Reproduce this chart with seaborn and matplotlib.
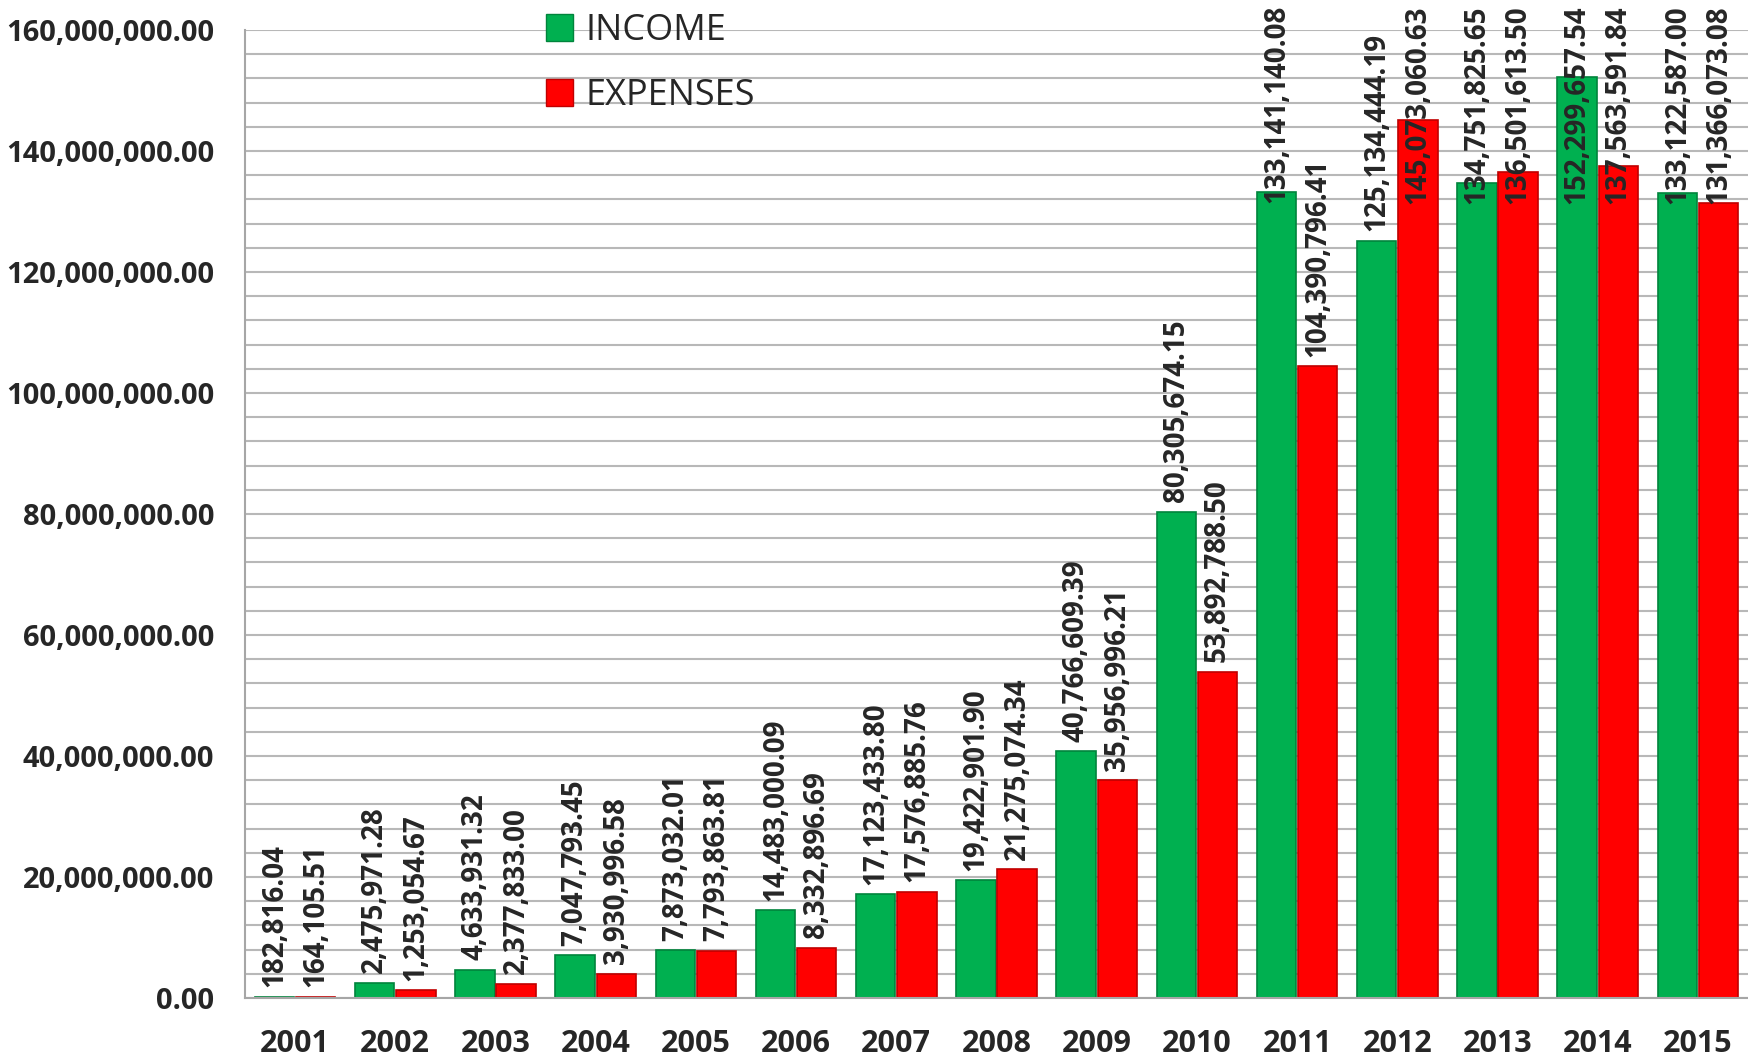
import matplotlib
matplotlib.use("Agg")
import numpy as np
import pandas as pd
import matplotlib.pyplot as plt
import seaborn as sns
from matplotlib.patches import Patch
from matplotlib.ticker import MultipleLocator, FuncFormatter

# data
years = ["2001", "2002", "2003", "2004", "2005", "2006", "2007", "2008",
         "2009", "2010", "2011", "2012", "2013", "2014", "2015"]
income = [182816.04, 2475971.28, 4633931.32, 7047793.45, 7873032.01,
          14483000.09, 17123433.80, 19422901.90, 40766609.39, 80305674.15,
          133141140.08, 125134444.19, 134751825.65, 152299657.54, 133122587.00]
expenses = [164105.51, 1253054.67, 2377833.00, 3930996.58, 7793863.81,
            8332896.69, 17576885.76, 21275074.34, 35956996.21, 53892788.50,
            104390796.41, 145073060.63, 136501613.50, 137563591.84, 131366073.08]
series = ["INCOME", "EXPENSES"]
colors = ["#00B050", "#FF0000"]
edges = ["#00843C", "#C00000"]

df = pd.DataFrame({
    "year": years * 2,
    "value": income + expenses,
    "series": [series[0]] * len(years) + [series[1]] * len(years),
})

sns.set_style("white")
plt.rcParams["font.family"] = ["Open Sans", "DejaVu Sans"]

W, H = 1748, 1061
fig = plt.figure(figsize=(W / 100, H / 100), dpi=100)
ax = fig.add_axes([245 / W, 1 - 998 / H, 1 - 245 / W, (998 - 30) / H])

sns.barplot(data=df, x="year", y="value", hue="series", order=years,
            hue_order=series, palette=colors, saturation=1, width=0.82, gap=0.04,
            linewidth=1.2, ax=ax, legend=False)

for cont, ec in zip(ax.containers, edges):
    for bar in cont:
        bar.set_edgecolor(ec)

gray = "#A6A6A6"
ax.set_ylim(0, 160e6)
ax.set_xlim(-0.5, len(years) - 0.5)
ax.yaxis.set_major_locator(MultipleLocator(20e6))
ax.yaxis.set_minor_locator(MultipleLocator(4e6))
ax.yaxis.set_major_formatter(FuncFormatter(lambda v, p: f"{v:,.2f}"))
ax.set_axisbelow(True)
ax.grid(which="both", axis="y", color="#B8B8B8", lw=1.5)
ax.grid(False, axis="x")
ax.set_xticks(np.arange(-0.5, len(years), 1), minor=True)
ax.tick_params(axis="x", which="minor", length=9, width=1.5, direction="out", color=gray)
ax.tick_params(axis="x", which="major", length=0, pad=22, labelsize=22)
ax.tick_params(axis="y", which="both", direction="in", length=7, width=1.5, color=gray,
               labelsize=21, pad=22)
for lbl in ax.get_xticklabels() + ax.get_yticklabels():
    lbl.set_fontweight("bold")
for s in ["top", "right"]:
    ax.spines[s].set_visible(False)
for s in ["left", "bottom"]:
    ax.spines[s].set_color(gray)
    ax.spines[s].set_linewidth(1.5)
ax.set_xlabel("")
ax.set_ylabel("")

# value labels above the bars
texts = []
for cont, vals in zip(ax.containers, [income, expenses]):
    for bar, v in zip(cont, vals):
        x = bar.get_x() + bar.get_width() / 2
        t = ax.annotate(f"{v:,.2f}", (x, v), xytext=(0, 7), textcoords="offset points",
                        rotation=90, ha="center", va="bottom", fontsize=20,
                        fontweight="bold", annotation_clip=False)
        texts.append(t)

# push labels that would run off the top back inside the figure
fig.canvas.draw()
r = fig.canvas.get_renderer()
for t in texts:
    bb = t.get_window_extent(r)
    if bb.y1 > H - 5:
        shift = (bb.y1 - (H - 5)) * 72 / 100
        t.xyann = (0, 7 - shift)

handles = [Patch(facecolor=c, edgecolor=e) for c, e in zip(colors, edges)]
fig.legend(handles, series, loc="upper left", bbox_to_anchor=(546 / W, 1 - 13 / H),
           frameon=False, fontsize=26, handlelength=0.75, handleheight=0.75,
           handletextpad=0.35, labelspacing=0.8, borderpad=0, borderaxespad=0)

fig.savefig("out.png", dpi=100)
